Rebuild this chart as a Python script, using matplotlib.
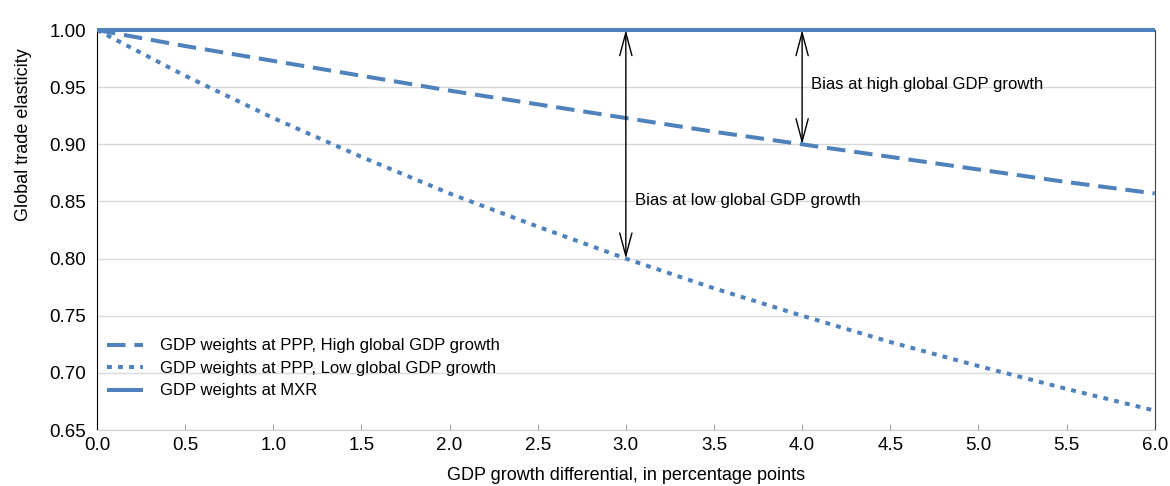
import numpy as np
import matplotlib.pyplot as plt

plt.rcParams['font.family'] = ['Liberation Sans', 'DejaVu Sans']

# GDP growth differential (percentage points)
growth_diff = [0.0, 0.5, 1.0, 1.5, 2.0, 2.5, 3.0, 3.5, 4.0, 4.5, 5.0, 5.5, 6.0]
# elasticity, PPP weights, high global GDP growth
ppp_high = [1.000, 0.986, 0.973, 0.960, 0.947, 0.935, 0.923, 0.911, 0.900, 0.889, 0.878, 0.867, 0.857]
# elasticity, PPP weights, low global GDP growth
ppp_low = [1.000, 0.960, 0.923, 0.889, 0.857, 0.828, 0.800, 0.774, 0.750, 0.727, 0.706, 0.686, 0.667]
# elasticity, market exchange rate weights
mxr = [1.0] * len(growth_diff)

blue = '#4F81BD'

fig = plt.figure(figsize=(11.7, 4.86), dpi=100)
ax = fig.add_axes([0.0829, 0.1152, 0.904, 0.823])

ax.plot(growth_diff, ppp_high, color=blue, lw=2.9, dashes=(4.6, 2.2),
        label='GDP weights at PPP, High global GDP growth')
ax.plot(growth_diff, ppp_low, color=blue, lw=2.9, dashes=(1.2, 1.55),
        label='GDP weights at PPP, Low global GDP growth')
ax.plot(growth_diff, mxr, color=blue, lw=2.9, solid_capstyle='butt',
        label='GDP weights at MXR', clip_on=False, zorder=4)

# bias arrows
arrow = dict(arrowstyle='<->,head_length=0.75,head_width=0.2', color='black', lw=1,
             mutation_scale=22, shrinkA=0, shrinkB=0)
ax.annotate('', xy=(3, ppp_low[6]), xytext=(3, mxr[6]), arrowprops=arrow)
ax.annotate('', xy=(4, ppp_high[8]), xytext=(4, mxr[8]), arrowprops=arrow)
ax.text(3.05, 0.851, 'Bias at low global GDP growth', fontsize=12, va='center')
ax.text(4.05, 0.952, 'Bias at high global GDP growth', fontsize=12, va='center')

ax.set_xlim(0, 6)
ax.set_ylim(0.65, 1.0)
ax.set_xticks(np.arange(0, 6.01, 0.5))
ax.set_yticks(np.arange(0.65, 1.001, 0.05))
ax.xaxis.set_major_formatter(plt.FormatStrFormatter('%.1f'))
ax.yaxis.set_major_formatter(plt.FormatStrFormatter('%.2f'))
ax.tick_params(axis='x', direction='in', length=4, color='#a0a0a0', labelsize=13.5, pad=5)
ax.tick_params(axis='y', length=0, labelsize=13.5, pad=8)
ax.grid(axis='y', color='#d9d9d9', lw=1)
ax.set_axisbelow(True)

ax.spines['top'].set_visible(False)
ax.spines['left'].set_color('black')
ax.spines['right'].set_color('#404040')
ax.spines['bottom'].set_color('#d0d0d0')

ax.set_xlabel('GDP growth differential, in percentage points', fontsize=13)
ax.set_ylabel('Global trade elasticity', fontsize=13)
ax.xaxis.set_label_coords(0.5, -0.093)
ax.yaxis.set_label_coords(-0.061, 0.7375)

ax.legend(loc='lower left', bbox_to_anchor=(-0.002, 0.05), frameon=False, fontsize=12,
          handlelength=2.2, handletextpad=1.0, labelspacing=0.45, borderaxespad=0.3)

fig.savefig('out.png', dpi=100)
